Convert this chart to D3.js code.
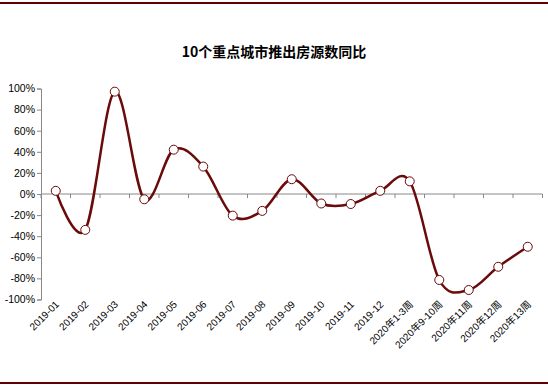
<!DOCTYPE html>
<html>
<head>
<meta charset="utf-8">
<script src="https://cdn.jsdelivr.net/npm/d3@7"></script>
<style>
  body { margin: 0; background: #fff; }
  svg { display: block; }
</style>
</head>
<body>
<svg id="chart" width="548" height="385"></svg>
<script>
// chart data
const categories = ["2019-01", "2019-02", "2019-03", "2019-04", "2019-05", "2019-06", "2019-07",
  "2019-08", "2019-09", "2019-10", "2019-11", "2019-12", "2020年1-3周", "2020年9-10周",
  "2020年11周", "2020年12周", "2020年13周"];
const values = [3, -34, 97, -5, 42, 26, -20.5, -16, 14, -9, -9.5, 3, 12, -81.5, -91, -69, -50];
const yTicks = [100, 80, 60, 40, 20, 0, -20, -40, -60, -80, -100];
const title = "10个重点城市推出房源数同比";

const svg = d3.select("#chart");
const W = 548, H = 385;
const lineColor = "#6b0a0a";

// frame lines top & bottom
svg.append("rect").attr("x", 0).attr("y", 2).attr("width", W).attr("height", 2).attr("fill", "#600000");
svg.append("rect").attr("x", 0).attr("y", 382).attr("width", W).attr("height", 2).attr("fill", "#600000");

// title
svg.append("text")
  .attr("x", 274).attr("y", 57)
  .attr("text-anchor", "middle")
  .style("font-family", "'Noto Sans CJK SC', sans-serif")
  .style("font-weight", "bold")
  .style("font-size", "14px")
  .attr("fill", "#000")
  .text(title);

const left = 41, right = 542.5;
const x = d3.scaleBand().domain(categories).range([left, right]);
const y = d3.scaleLinear().domain([-100, 100]).range([299.5, 88.5]);

// y axis
const yAxis = svg.append("g")
  .attr("transform", `translate(${left},0)`)
  .call(d3.axisLeft(y).tickValues(yTicks).tickSize(4).tickFormat(d => d + "%"));
yAxis.selectAll("path, line").attr("stroke", "#888");
yAxis.selectAll("text")
  .attr("x", -6)
  .style("font-family", "'Liberation Sans', Arial, sans-serif")
  .style("font-size", "10.5px")
  .attr("fill", "#000");

// x axis at 0
const xAxis = svg.append("g")
  .attr("transform", `translate(0,${y(0)})`);
xAxis.append("line")
  .attr("x1", left).attr("x2", right)
  .attr("stroke", "#888");
xAxis.selectAll("line.tick")
  .data(d3.range(categories.length + 1))
  .join("line")
  .attr("class", "tick")
  .attr("x1", i => left + i * x.step()).attr("x2", i => left + i * x.step())
  .attr("y1", 0).attr("y2", 4)
  .attr("stroke", "#888");

// x labels, rotated
svg.append("g").selectAll("text")
  .data(categories)
  .join("text")
  .attr("transform", d => `translate(${x(d) + x.bandwidth() / 2 + 4},${305}) rotate(-45)`)
  .attr("text-anchor", "end")
  .style("font-family", "'Liberation Sans', 'Noto Sans CJK SC', sans-serif")
  .style("font-size", "10px")
  .attr("fill", "#000")
  .text(d => d);

// smoothed line
const pts = categories.map((c, i) => [x(c) + x.bandwidth() / 2, y(values[i])]);
svg.append("path")
  .attr("d", d3.line().curve(d3.curveCardinal.tension(0))(pts))
  .attr("fill", "none")
  .attr("stroke", lineColor)
  .attr("stroke-width", 2.5);

// markers
svg.append("g").selectAll("circle")
  .data(pts)
  .join("circle")
  .attr("cx", d => d[0]).attr("cy", d => d[1])
  .attr("r", 4.5)
  .attr("fill", "#fff")
  .attr("stroke", lineColor)
  .attr("stroke-width", 1);
</script>
</body>
</html>
